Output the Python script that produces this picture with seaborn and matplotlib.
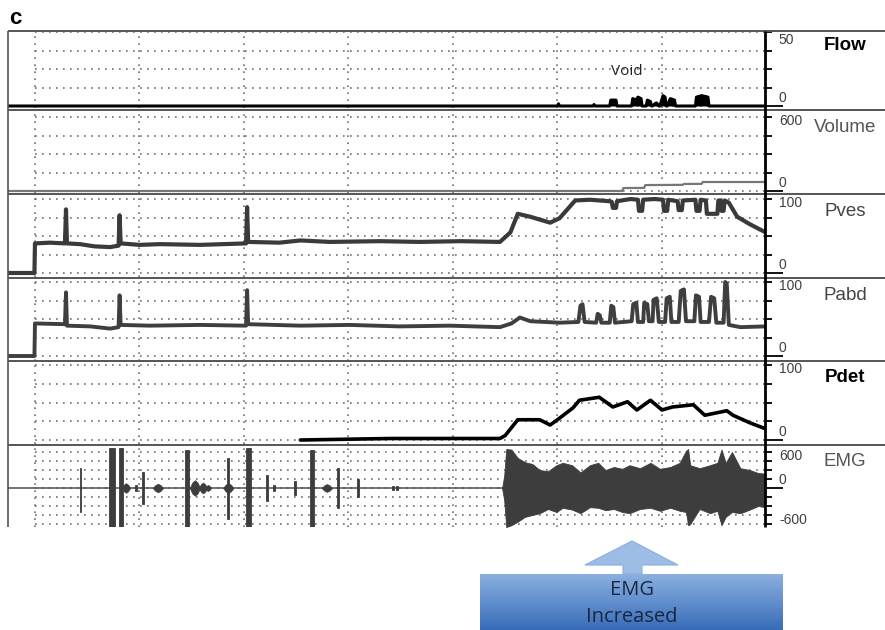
import numpy as np
import matplotlib
matplotlib.use("Agg")
import matplotlib.pyplot as plt
import matplotlib.transforms as mtransforms
from matplotlib.patches import Polygon
from matplotlib.colors import LinearSegmentedColormap
import seaborn as sns

# ---- traces (time units: grid every 100) ----
flow_t = [-25.8, 500, 501, 502, 534, 535, 536, 550, 551, 556, 557, 571, 572, 575, 577, 580,
          581, 585, 586, 589, 590, 591, 594, 595, 597, 598, 601, 603, 604, 605, 608, 612,
          613, 632, 633, 638, 644, 645, 699]
flow_v = [0, 0, 1.5, 0, 0, 1, 0, 0, 4, 4, 0, 0, 5, 4, 6, 5,
          0, 0, 4, 3, 0, 0, 2, 2, 0, 0, 7, 6, 0, 0, 5, 4,
          0, 0, 6, 7, 6, 0, 0]

vol_t = [-25.8, 562, 563, 583, 584, 620, 621, 638, 639, 699]
vol_v = [0, 0, 24, 25, 48, 50, 57, 58, 73, 73]

pves_t = [-25.8, -0.5, 0, 14, 28.7, 29.7, 30.6, 43, 57, 72, 80, 81, 82, 100, 120, 158, 202,
          203, 204, 234, 254, 282, 330, 368, 407, 445, 455, 462, 474, 493, 502, 517, 531,
          550, 552, 553, 556, 557, 570, 577, 578, 581, 582, 593, 601, 602, 605, 606, 615,
          616, 619, 620, 632, 633, 636, 637, 642, 643, 653, 654, 656, 657, 659, 660, 664,
          672, 684, 699]
pves_v = [0, 0, 40, 41, 40, 86, 40, 39, 36, 35, 37, 78, 40, 38, 39, 38, 40,
          89, 42, 41, 44, 42, 43, 42, 43, 42, 55, 80, 76, 68, 74, 98, 99,
          97, 96, 88, 88, 97, 100, 99, 84, 84, 99, 100, 99, 84, 84, 99, 97,
          85, 85, 98, 99, 84, 84, 99, 98, 80, 80, 98, 98, 84, 84, 98, 95,
          76, 66, 55]

pabd_t = [-25.8, -0.5, 0, 28.7, 29.7, 30.6, 53, 72, 80, 81, 82, 110, 158, 202, 203, 204,
          254, 301, 349, 397, 445, 456, 464, 474, 502,
          520, 522, 524, 526, 537, 538.5, 540.5, 542, 550, 551.5, 553.5, 555,
          571, 572.5, 575.5, 577, 582, 583, 586, 587.5, 591, 592, 595, 597,
          603, 604.5, 607.5, 609, 616, 618, 621, 623, 631, 632.5, 635.5, 637,
          645, 647, 650, 652, 659, 660.5, 662, 664, 675, 699]
pabd_v = [0, 0, 44, 43, 86, 41, 40, 37, 39, 82, 42, 41, 42, 41, 89, 43,
          41, 42, 40, 41, 39, 44, 52, 47, 45,
          46, 68, 70, 46, 45, 57, 55, 45, 45, 68, 66, 45,
          47, 70, 72, 46, 46, 72, 70, 47, 47, 76, 78, 46,
          46, 78, 80, 46, 46, 88, 90, 47, 47, 82, 80, 46,
          46, 80, 78, 45, 45, 100, 98, 42, 39, 40]

pdet_t = [254, 340, 445, 450, 462, 483, 493, 500, 515, 521, 540, 553, 567, 576, 589, 600,
          610, 630, 641, 662, 668, 684, 699]
pdet_v = [0, 2, 2, 6, 27, 27, 20, 27, 43, 53, 57, 44, 51, 40, 53, 40,
          44, 47, 33, 39, 33, 23, 15]

# isolated EMG spikes during filling
emg_burst_t = [44.0, 73.7, 82.3, 96.7, 103.4, 145.5, 184.7, 204.7, 222.0, 228.7, 248.8,
               265.1, 290.0, 309.1, 342.6, 346.4]
emg_burst_hi = [333, 670, 670, 50, 270, 640, 500, 670, 215, 50, 110, 640, 340, 150, 35, 35]
emg_burst_lo = [-400, -670, -670, -50, -270, -670, -520, -670, -215, -50, -110, -670, -340,
                -150, -35, -35]
emg_burst_dur = [1, 5, 4, 2, 1.5, 3, 2, 5, 2, 2, 2, 3, 2, 1.5, 2, 2]
# small rounded EMG bursts
emg_blob_t = [87.1, 117.7, 153.1, 160.8, 165.6, 185.0, 279.4]
emg_blob_amp = [80, 70, 130, 90, 50, 80, 65]
emg_blob_dur = [8, 10, 10, 8, 6, 10, 10]

# dense EMG activity during voiding (envelope)
emg_t = [447, 449, 451, 456, 462, 469, 476, 483, 491, 499, 505, 514, 522, 531, 539, 546,
         554, 562, 569, 579, 589, 598, 608, 617, 623, 625, 627, 636, 646, 653, 657, 661,
         667, 675, 684, 692, 699]
emg_hi = [0, 200, 650, 640, 500, 430, 400, 300, 280, 380, 420, 380, 260, 380, 420, 300,
          350, 320, 380, 330, 420, 320, 350, 420, 620, 650, 380, 330, 380, 420, 640, 420,
          600, 330, 300, 250, 240]
emg_lo = [0, -200, -650, -620, -560, -480, -450, -420, -350, -400, -330, -360, -420, -320,
          -330, -370, -350, -400, -420, -350, -330, -380, -330, -380, -400, -620, -600,
          -350, -420, -380, -620, -480, -400, -420, -360, -300, -320]

grid_t = [0, 100, 200, 300, 400, 500, 600]

sns.set_theme(style="white")
plt.rcParams['font.family'] = ['Liberation Sans', 'DejaVu Sans']
narrow = ['Liberation Sans Narrow', 'Liberation Sans', 'DejaVu Sans']

W, H = 885, 630
fig = plt.figure(figsize=(W / 100, H / 100), dpi=100)
X0, X1 = 8, 765
T0, T1 = -25.8, 698.6
DOT = (0, (1, 3.2))
EMG_COL = '#3d3d3d'


def panel(top, bot, zero_px, vmax, vmax_px, ticks, labels):
    k = vmax / (zero_px - vmax_px)
    ylo = -(bot - zero_px) * k
    yhi = vmax + (vmax_px - top) * k
    ax = fig.add_axes([X0 / W, 1 - bot / H, (X1 - X0) / W, (bot - top) / H])
    for s in ax.spines.values():
        s.set_visible(False)
    ax.set_xticks([])
    ax.yaxis.tick_right()
    ax.set_yticks(ticks)
    ax.set_yticks([0], minor=True)
    ax.tick_params(axis='y', which='major', direction='out', length=5, width=1.3,
                   color='black', right=True, left=False, labelright=False, labelleft=False)
    ax.tick_params(axis='y', which='minor', direction='out', length=13, width=1.3,
                   color='black', right=True, left=False, labelright=False, labelleft=False)
    ax.vlines(grid_t, ylo, yhi, colors='#707070', linestyles=[DOT], linewidth=1.2, zorder=1)
    ax.hlines(list(ticks) + [0], 0, T1, colors='#707070', linestyles=[DOT],
              linewidth=1.2, zorder=1)
    blend = mtransforms.blended_transform_factory(ax.transAxes, ax.transData)
    for val, txt, va, dy in labels:
        ax.annotate(txt, xy=(1, val), xycoords=blend, xytext=(10, dy),
                    textcoords='offset points', ha='left', va=va, fontsize=10,
                    color='#404040', family=narrow)
    ax._lims = (ylo, yhi)
    return ax


def finish(ax):
    ax.set_xlim(T0, T1)
    ax.set_ylim(*ax._lims)
    ax.set_xlabel('')
    ax.set_ylabel('')
    ax.grid(False)


# Flow
ax = panel(31, 108, 106, 50, 32, [12.5, 25, 37.5, 50],
           [(50, '50', 'top', -1), (0, '0', 'bottom', 1)])
ax.fill_between(flow_t, 0, flow_v, color='black', lw=0, zorder=3)
sns.lineplot(x=flow_t, y=flow_v, ax=ax, color='black', linewidth=2.2, estimator=None,
             sort=False, zorder=4)
ax.text(566, 23, 'Void', ha='center', va='center', fontsize=11, color='#222222',
        family=['Open Sans', 'DejaVu Sans'])
finish(ax)

# Volume
ax = panel(110, 193, 191, 600, 117, [150, 300, 450, 600],
           [(600, '600', 'top', 2), (0, '0', 'bottom', 1)])
sns.lineplot(x=vol_t, y=vol_v, ax=ax, color='#777777', linewidth=1.6, estimator=None,
             sort=False, zorder=4)
finish(ax)

# Pves
ax = panel(194, 277, 273, 100, 199, [25, 50, 75, 100],
           [(100, '100', 'top', 2), (0, '0', 'bottom', 1)])
sns.lineplot(x=pves_t, y=pves_v, ax=ax, color='#3a3a3a', linewidth=3.0, estimator=None,
             sort=False, zorder=4)
finish(ax)

# Pabd
ax = panel(278, 361, 356, 100, 282, [25, 50, 75, 100],
           [(100, '100', 'top', 2), (0, '0', 'bottom', 1)])
sns.lineplot(x=pabd_t, y=pabd_v, ax=ax, color='#3f3f3f', linewidth=2.8, estimator=None,
             sort=False, zorder=4)
finish(ax)

# Pdet
ax = panel(362, 444, 440, 100, 365, [25, 50, 75, 100],
           [(100, '100', 'top', 2), (0, '0', 'bottom', 1)])
sns.lineplot(x=pdet_t, y=pdet_v, ax=ax, color='black', linewidth=2.6, estimator=None,
             sort=False, zorder=4)
finish(ax)

# EMG
ax = panel(445, 527, 488, 600, 452, [-600, -450, -300, -150, 150, 300, 450, 600],
           [(600, '600', 'center', -3), (0, '0', 'bottom', 1), (-600, '-600', 'center', 3)])
ax.axhline(0, color='#505050', lw=1.1, zorder=2)
heights = np.array(emg_burst_hi) - np.array(emg_burst_lo)
ax.bar(emg_burst_t, heights, bottom=emg_burst_lo, width=emg_burst_dur, color=EMG_COL,
       edgecolor=EMG_COL, linewidth=0.6, zorder=3)
for t, a, d in zip(emg_blob_t, emg_blob_amp, emg_blob_dur):
    xs = [t - d / 2, t - d / 4, t, t + d / 4, t + d / 2]
    ax.fill_between(xs, [0, -0.7 * a, -a, -0.7 * a, 0], [0, 0.7 * a, a, 0.7 * a, 0],
                    color=EMG_COL, lw=0.5, edgecolor=EMG_COL, zorder=3)
ax.fill_between(emg_t, emg_lo, emg_hi, color=EMG_COL, lw=0.6, edgecolor=EMG_COL, zorder=3)
finish(ax)

# ---- overlay: frame, labels, annotation ----
ov = fig.add_axes([0, 0, 1, 1], facecolor='none')
ov.axis('off')
ov.hlines([31, 109.5, 194, 277.5, 361, 444.5], X0, W, colors='#555555', lw=1.4)
ov.vlines(X0, 31, 527, colors='#555555', lw=1.2)
ov.vlines(X1, 31, 527, colors='black', lw=2.0)

titles = [('Flow', 46, 'bold', 'black'), ('Volume', 127, 'normal', '#555555'),
          ('Pves', 211, 'normal', '#444444'), ('Pabd', 295, 'normal', '#444444'),
          ('Pdet', 378, 'bold', 'black'), ('EMG', 461, 'normal', '#555555')]
for txt, y, wt, col in titles:
    ov.text(845, y, txt, ha='center', va='center', fontsize=13.5, fontweight=wt, color=col)

ov.text(15, 19, 'c', ha='center', va='center', fontsize=16, fontweight='bold', color='black')

grad = np.linspace(0, 1, 100).reshape(-1, 1)
cmap = LinearSegmentedColormap.from_list('box', ['#8bb0e0', '#386cb8'])
ov.imshow(grad, extent=(480, 783, 630, 574), cmap=cmap, aspect='auto', zorder=5)
ov.add_patch(Polygon([(632, 541), (678, 565), (642, 565), (642, 574), (623, 574),
                      (623, 565), (585, 565)], closed=True, facecolor='#9dbde7',
                     edgecolor='#8aaedd', lw=0.8, zorder=6))
ov.text(632, 590, 'EMG', ha='center', va='center', fontsize=14.5, color='#1a2740',
        family=['Open Sans', 'DejaVu Sans'], zorder=7)
ov.text(632, 617, 'Increased', ha='center', va='center', fontsize=14.5, color='#1a2740',
        family=['Open Sans', 'DejaVu Sans'], zorder=7)
ov.set_xlim(0, W)
ov.set_ylim(H, 0)

fig.savefig('out.png', dpi=100)
